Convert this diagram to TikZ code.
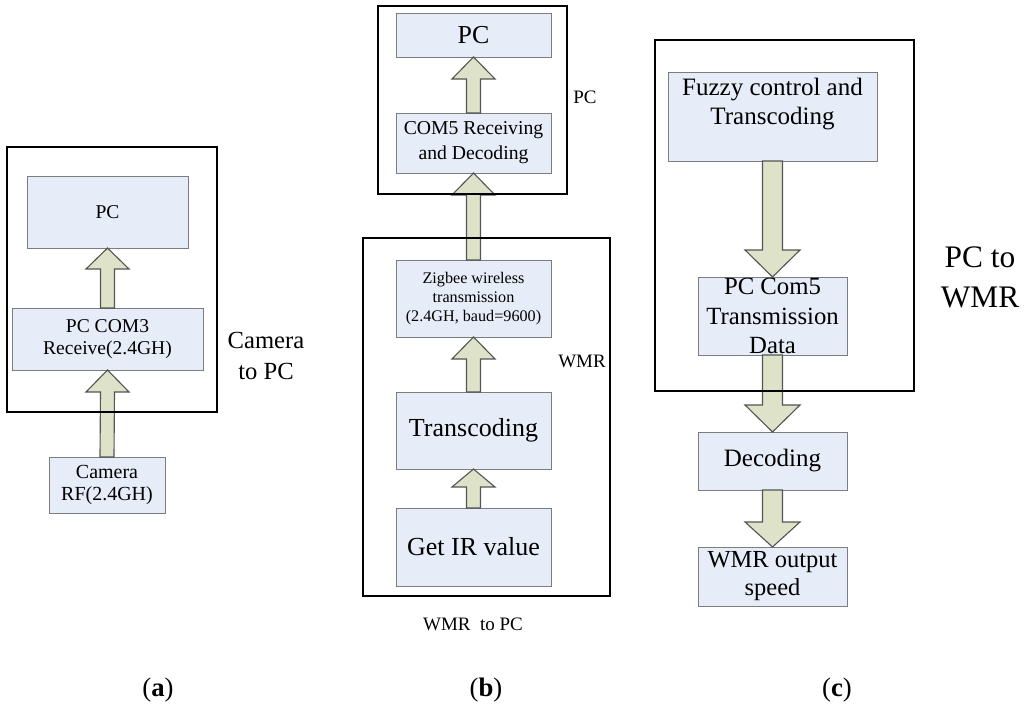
\documentclass[tikz,border=0pt]{standalone}
\usepackage{fontspec}
\setmainfont{Liberation Serif}
\usetikzlibrary{calc}
\usepackage{xcolor}
\definecolor{boxfill}{RGB}{231,237,248}
\definecolor{boxline}{RGB}{125,125,125}
\definecolor{arrowfill}{RGB}{221,226,200}
\definecolor{arrowline}{RGB}{85,85,85}

% block arrow: tail, tip, shaft half width, head half width, head length
\newcommand{\blockarrow}[5]{%
  \draw[blockarrow] ($(#1)+(-#3,0)$) -- ($(#2)+(-#3,#5)$) -- ($(#2)+(-#4,#5)$) --
    (#2) -- ($(#2)+(#4,#5)$) -- ($(#2)+(#3,#5)$) -- ($(#1)+(#3,0)$) -- cycle;}

\begin{document}
\begin{tikzpicture}[x=0.025cm,y=-0.025cm,
    box/.style={draw=boxline,fill=boxfill,line width=0.6pt,
      inner sep=0pt,outer sep=0pt,align=center},
    blockarrow/.style={draw=arrowline,fill=arrowfill,line width=0.8pt},
    thickframe/.style={draw=black,line width=1.4pt},
    thinframe/.style={draw=black,line width=0.8pt},
    txtA/.style={font=\fontsize{13.9}{15.4}\selectfont},
    txtB/.style={font=\fontsize{14}{17.8}\selectfont},
    txtZ/.style={font=\fontsize{11.5}{13.6}\selectfont},
    txtBig/.style={font=\fontsize{18.5}{21}\selectfont},
    txtC/.style={font=\fontsize{17.8}{20.5}\selectfont,align=center},
    side/.style={font=\fontsize{13.5}{16}\selectfont},
    sidelarge/.style={align=center},
    caption/.style={font=\fontsize{19}{21}\selectfont}]
  \useasboundingbox (0,0) rectangle (1024,708);

  %% (a) camera to PC
  \node[box,txtA,minimum width=4.025cm,minimum height=1.8cm] (pcA) at (107.5,212) {PC};
  \node[box,txtA,minimum width=4.775cm,minimum height=1.55cm] (comA) at (107.5,339)
    {PC COM3\\Receive(2.4GH)};
  \node[box,font=\fontsize{14.2}{15.5}\selectfont,
    minimum width=2.9cm,minimum height=1.4cm] (camA) at (107,485) {Camera\\RF(2.4GH)};
  \blockarrow{comA.north}{pcA.south}{7}{21.5}{21}
  \blockarrow{camA.north}{comA.south}{7}{21.5}{22}
  \draw[thickframe] (7,147) rectangle (217,412);
  \node[sidelarge,font=\fontsize{17.5}{22.5}\selectfont] (lblA) at (266,356) {Camera\\to PC};
  \node[caption] (capA) at (158,690) {({\bfseries a})};

  %% (b) WMR to PC
  \node[box,font=\fontsize{18.4}{20}\selectfont,
    minimum width=3.875cm,minimum height=1.1cm] (pcB) at (473.5,35) {PC};
  \node[box,txtB,minimum width=3.875cm,minimum height=1.5cm] (comB) at (473.5,143)
    {COM5 Receiving\\and Decoding};
  \node[box,txtZ,minimum width=3.875cm,minimum height=1.925cm] (zigB) at (473.5,298.5)
    {Zigbee wireless\\transmission\\(2.4GH, baud=9600)};
  \node[box,txtBig,minimum width=3.875cm,minimum height=1.925cm] (transB) at (473.5,430.5)
    {Transcoding};
  \node[box,txtBig,minimum width=3.875cm,minimum height=1.95cm] (irB) at (473.5,547)
    {Get IR value};
  \blockarrow{comB.north}{pcB.south}{7}{21.5}{22}
  \blockarrow{zigB.north}{comB.south}{7}{21.5}{22}
  \blockarrow{transB.north}{zigB.south}{7}{21.5}{22}
  \blockarrow{irB.north}{transB.south}{7}{21.5}{18}
  \draw[thinframe] (378,6) rectangle (567,194);
  \draw[thinframe] (363,238) rectangle (610,596);
  \node[side] (lblPC) at (585,97) {PC};
  \node[side] (lblWMR) at (582,361) {WMR};
  \node[side] (lblB) at (473,624) {WMR\ \ to PC};
  \node[caption] (capB) at (486,690) {({\bfseries b})};

  %% (c) PC to WMR
  \node[box,minimum width=5.225cm,minimum height=2.225cm,
    label={[txtC,anchor=north,inner sep=4pt]north:{Fuzzy control and\\Transcoding}}]
    (fuzC) at (772.5,116.5) {};
  \node[box,minimum width=3.725cm,minimum height=1.95cm,
    label={[txtC,font=\fontsize{17.6}{21}\selectfont]center:{PC Com5\\Transmission\\Data}}]
    (comC) at (772.5,316) {};
  \node[box,txtC,minimum width=3.725cm,minimum height=1.45cm] (decC) at (772.5,461)
    {Decoding};
  \node[box,font=\fontsize{17.4}{20}\selectfont,
    minimum width=3.725cm,minimum height=1.475cm] (wmrC) at (772.5,576.5)
    {WMR output\\speed};
  \blockarrow{fuzC.south}{comC.north}{10}{27.5}{-27}
  \blockarrow{comC.south}{decC.north}{10}{27.5}{-27}
  \blockarrow{decC.south}{wmrC.north}{10}{27.5}{-25}
  \draw[thickframe] (655,40) rectangle (914,391);
  \node[sidelarge,font=\fontsize{22.3}{28.4}\selectfont] (lblC) at (980,277) {PC to\\WMR};
  \node[caption] (capC) at (837,690) {({\bfseries c})};
\end{tikzpicture}
\end{document}
